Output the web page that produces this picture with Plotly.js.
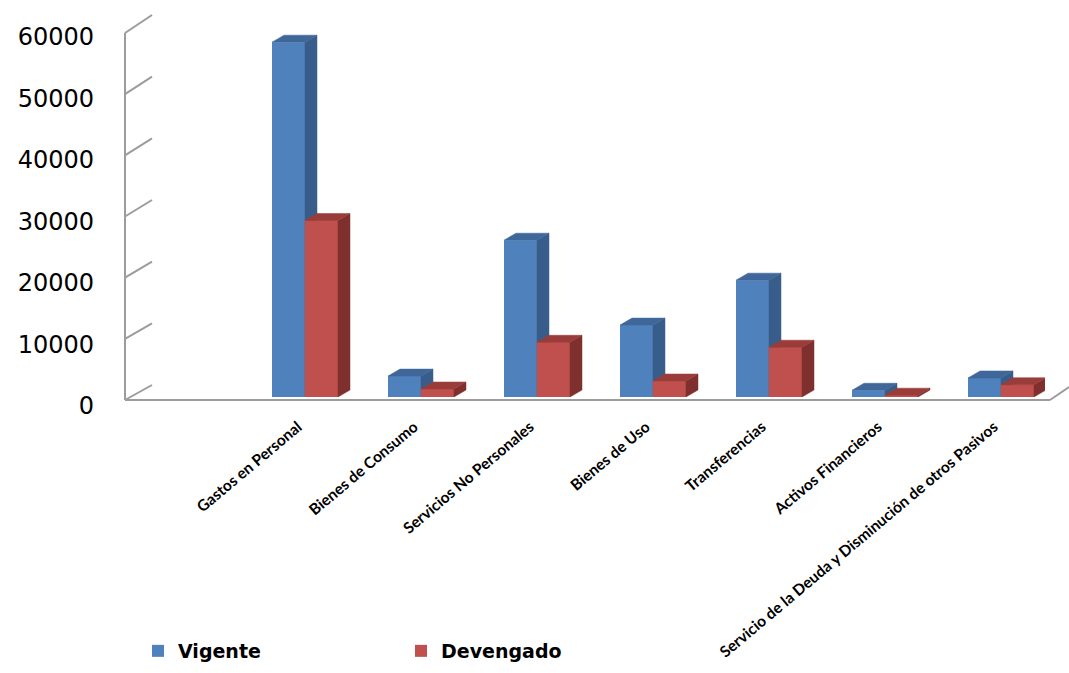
<!DOCTYPE html>
<html>
<head>
<meta charset="utf-8">
<script src="https://cdn.plot.ly/plotly-3.0.1.min.js"></script>
<style>html,body{margin:0;padding:0;background:#fff;}#chart{width:1069px;height:673px;}</style>
</head>
<body>
<div id="chart"></div>
<script>
// ---- data ----
const categories = ["Gastos en Personal", "Bienes de Consumo", "Servicios No Personales", "Bienes de Uso", "Transferencias", "Activos Financieros", "Servicio de la Deuda y Disminución de otros Pasivos"];
const vigente = [57700, 3400, 25500, 11700, 19000, 1100, 3100];
const devengado = [28700, 1300, 8900, 2600, 8100, 300, 2000];
const seriesNames = ["Vigente", "Devengado"];
const yTicks = [0, 10000, 20000, 30000, 40000, 50000, 60000];

// ---- geometry helpers (pixel -> paper) ----
const W = 1069, H = 673;
const PX = x => x / W;
const PY = y => 1 - y / H;
const idx = categories.map((_, i) => i);

const barW = 33 / 116;        // front face width in category units
const depthX = 12 / 116;      // 3D depth offset (x, category units)
const depthY = 7 * 60000 / 369; // 3D depth offset (y, value units)

function faceFront(vals, off) {
  const x = [], y = [];
  vals.forEach((v, i) => {
    const x0 = i + off, x1 = x0 + barW;
    x.push(x0, x1, x1, x0, x0, null); y.push(0, 0, v, v, 0, null);
  });
  return {x, y};
}
function faceSide(vals, off) {
  const x = [], y = [];
  vals.forEach((v, i) => {
    const x1 = i + off + barW;
    x.push(x1, x1 + depthX, x1 + depthX, x1, x1, null);
    y.push(0, depthY, v + depthY, v, 0, null);
  });
  return {x, y};
}
function faceTop(vals, off) {
  const x = [], y = [];
  vals.forEach((v, i) => {
    const x0 = i + off, x1 = x0 + barW;
    x.push(x0, x0 + depthX, x1 + depthX, x1, x0, null);
    y.push(v, v + depthY, v + depthY, v, v, null);
  });
  return {x, y};
}
function poly(d, color) {
  return {type: 'scatter', mode: 'lines', x: d.x, y: d.y, fill: 'toself', fillcolor: color,
    line: {color: color, width: 0.5}, xaxis: 'x2', yaxis: 'y2', hoverinfo: 'skip', showlegend: false};
}

const blue = '#4f81bd', blueSide = '#385d8a', blueTop = '#3f679a';
const red = '#c0504d', redSide = '#7f302e', redTop = '#9a3c39';

const traces = [
  {type: 'bar', name: seriesNames[0], x: idx, y: vigente, offset: -barW, width: barW,
   marker: {color: blue}, xaxis: 'x2', yaxis: 'y2', hoverinfo: 'skip'},
  {type: 'bar', name: seriesNames[1], x: idx, y: devengado, offset: 0, width: barW,
   marker: {color: red}, xaxis: 'x2', yaxis: 'y2', hoverinfo: 'skip'},
  poly(faceSide(vigente, -barW), blueSide),
  poly(faceTop(vigente, -barW), blueTop),
  poly(faceFront(devengado, 0), red),
  poly(faceSide(devengado, 0), redSide),
  poly(faceTop(devengado, 0), redTop)
];

// ---- frame: left wall & floor lines ----
const gridCol = '#9c9c9c';
const shapes = [];
const frontY = v => 400 - v * 367 / 60000;
const backY = v => 385 - v * 370 / 60000;
yTicks.forEach(v => {
  shapes.push({type: 'line', xref: 'paper', yref: 'paper', x0: PX(125), y0: PY(frontY(v)), x1: PX(152), y1: PY(backY(v)),
    line: {color: gridCol, width: 2}});
});
shapes.push({type: 'line', xref: 'paper', yref: 'paper', x0: PX(125), y0: PY(frontY(0)), x1: PX(125), y1: PY(frontY(60000)), line: {color: gridCol, width: 2}});
shapes.push({type: 'line', xref: 'paper', yref: 'paper', x0: PX(125), y0: PY(frontY(0)), x1: PX(1050), y1: PY(frontY(0)), line: {color: gridCol, width: 2}});
shapes.push({type: 'line', xref: 'paper', yref: 'paper', x0: PX(1050), y0: PY(frontY(0)), x1: PX(1069), y1: PY(backY(0) + 2), line: {color: gridCol, width: 2}});

const layout = {
  width: W, height: H, autosize: false,
  margin: {l: 0, r: 0, t: 0, b: 0},
  paper_bgcolor: '#fff', plot_bgcolor: 'rgba(0,0,0,0)',
  showlegend: true,
  barmode: 'overlay',
  // back wall (gridlines)
  xaxis: {domain: [PX(152), 1], range: [0, 1], visible: false, fixedrange: true},
  yaxis: {domain: [PY(385), PY(15)], range: [0, 60000], tickvals: yTicks, showticklabels: false,
          showgrid: true, gridcolor: gridCol, gridwidth: 2, zeroline: false, ticks: '', fixedrange: true},
  // bar plane
  xaxis2: {domain: [PX(125), PX(1045)], range: [(125 - 305) / 116, (1045 - 305) / 116], anchor: 'y2',
           tickvals: idx, ticktext: categories, tickangle: -40, showgrid: false, zeroline: false, showline: false,
           ticks: '', ticklabelstandoff: 17, ticklabelshift: -7,
           tickfont: {family: 'Lato, sans-serif', size: 15.5, weight: 'bold', color: '#000'}, fixedrange: true},
  yaxis2: {domain: [PY(397), PY(28)], range: [0, 60000], anchor: 'x2', tickvals: yTicks, tickformat: 'd',
           showgrid: false, zeroline: false, showline: false, ticks: '', ticklabelstandoff: 30, ticklabelshift: 9,
           tickfont: {family: 'DejaVu Sans, sans-serif', size: 24, color: '#000'}, fixedrange: true},
  legend: {orientation: 'h', x: PX(138), xanchor: 'left', y: PY(651), yanchor: 'middle',
           font: {family: 'DejaVu Sans, sans-serif', size: 19, weight: 'bold', color: '#000'},
           itemwidth: 30, entrywidth: 218, entrywidthmode: 'pixels', bgcolor: 'rgba(0,0,0,0)'},
  shapes: shapes
};

Plotly.newPlot('chart', traces, layout, {displayModeBar: false, staticPlot: true});
</script>
</body>
</html>
